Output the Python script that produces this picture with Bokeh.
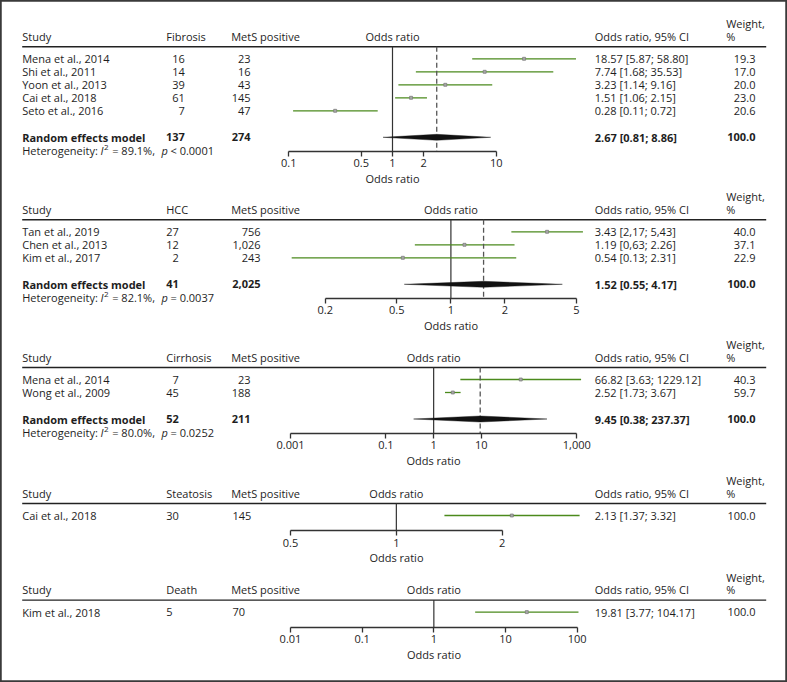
import math
from bokeh.plotting import figure
from bokeh.models import Range1d, LogScale, LinearAxis, FixedTicker, NumeralTickFormatter
from bokeh.core.properties import value
from bokeh.embed import file_html
from bokeh.resources import INLINE

# ---------------- data ----------------
fib_study = ["Mena et al., 2014", "Shi et al., 2011", "Yoon et al., 2013", "Cai et al., 2018", "Seto et al., 2016"]
fib_events = [16, 14, 39, 61, 7]
fib_mets = [23, 16, 43, 145, 47]
fib_or = [18.57, 7.74, 3.23, 1.51, 0.28]
fib_lo = [5.87, 1.68, 1.14, 1.06, 0.11]
fib_hi = [58.80, 35.53, 9.16, 2.15, 0.72]
fib_ci = ["18.57 [5.87; 58.80]", "7.74 [1.68; 35.53]", "3.23 [1.14; 9.16]", "1.51 [1.06; 2.15]", "0.28 [0.11; 0.72]"]
fib_w = [19.3, 17.0, 20.0, 23.0, 20.6]
fib_sum = [2.67, 0.81, 8.86]
fib_sum_ci = "2.67 [0.81; 8.86]"
fib_tot = [137, 274]
fib_het = ["89.1%", "< 0.0001"]
fib_ticks = [0.1, 0.5, 1, 2, 10]

hcc_study = ["Tan et al., 2019", "Chen et al., 2013", "Kim et al., 2017"]
hcc_events = [27, 12, 2]
hcc_mets = [756, 1026, 243]
hcc_or = [3.43, 1.19, 0.54]
hcc_lo = [2.17, 0.63, 0.13]
hcc_hi = [5.43, 2.26, 2.31]
hcc_ci = ["3.43 [2,17; 5,43]", "1.19 [0,63; 2.26]", "0.54 [0.13; 2.31]"]
hcc_w = [40.0, 37.1, 22.9]
hcc_sum = [1.52, 0.55, 4.17]
hcc_sum_ci = "1.52 [0.55; 4.17]"
hcc_tot = [41, 2025]
hcc_het = ["82.1%", "= 0.0037"]
hcc_ticks = [0.2, 0.5, 1, 2, 5]

cir_study = ["Mena et al., 2014", "Wong et al., 2009"]
cir_events = [7, 45]
cir_mets = [23, 188]
cir_or = [66.82, 2.52]
cir_lo = [3.63, 1.73]
cir_hi = [1229.12, 3.67]
cir_ci = ["66.82 [3.63; 1229.12]", "2.52 [1.73; 3.67]"]
cir_w = [40.3, 59.7]
cir_sum = [9.45, 0.38, 237.37]
cir_sum_ci = "9.45 [0.38; 237.37]"
cir_tot = [52, 211]
cir_het = ["80.0%", "= 0.0252"]
cir_ticks = [0.001, 0.1, 1, 10, 1000]

ste_study = ["Cai et al., 2018"]
ste_events = [30]
ste_mets = [145]
ste_or = [2.13]
ste_lo = [1.37]
ste_hi = [3.32]
ste_ci = ["2.13 [1.37; 3.32]"]
ste_w = [100.0]
ste_ticks = [0.5, 1, 2]

dea_study = ["Kim et al., 2018"]
dea_events = [5]
dea_mets = [70]
dea_or = [19.81]
dea_lo = [3.77]
dea_hi = [104.17]
dea_ci = ["19.81 [3.77; 104.17]"]
dea_w = [100.0]
dea_ticks = [0.01, 0.1, 1, 10, 100]

# ---------------- layout / style ----------------
W, H = 787, 682
FONT = value("Open Sans")
FS = "11px"
TXT = "#1e1e1e"
GREEN = "#4b8a1c"

p = figure(width=W, height=H, x_range=Range1d(0, W), y_range=Range1d(H, 0),
           output_backend="svg", toolbar_location=None,
           x_axis_location=None, y_axis_location=None, min_border=0)
p.title.visible = False
p.grid.visible = False
p.outline_line_color = "#3a3a3a"
p.outline_line_width = 2.5
p.background_fill_color = "white"
p.border_fill_color = "white"


def txt(x, y, s, align="left", style="normal", size=FS, rng=None):
    kw = {}
    if rng is not None:
        kw["x_range_name"] = rng
    p.text(x=[x], y=[y], text=[s], text_font=FONT, text_font_size=size,
           text_font_style=style, text_align=align, text_baseline="middle",
           text_color=TXT, **kw)


panels = [
    dict(name="fib", col="Fibrosis", study=fib_study, ev=fib_events, mets=fib_mets, est=fib_or,
         lo=fib_lo, hi=fib_hi, ci=fib_ci, w=fib_w, summ=fib_sum, summ_ci=fib_sum_ci, tot=fib_tot,
         het=fib_het, ticks=fib_ticks, anchors=((0.1, 288.3), (10, 495.7)), hy=36.0,
         ev_x=184.3, ev_al="right", me_x=250, me_al="right"),
    dict(name="hcc", col="HCC", study=hcc_study, ev=hcc_events, mets=hcc_mets, est=hcc_or,
         lo=hcc_lo, hi=hcc_hi, ci=hcc_ci, w=hcc_w, summ=hcc_sum, summ_ci=hcc_sum_ci, tot=hcc_tot,
         het=hcc_het, ticks=hcc_ticks, anchors=((0.2, 324.8), (5, 576.0)), hy=209.0,
         ev_x=178.3, ev_al="right", me_x=260, me_al="right"),
    dict(name="cir", col="Cirrhosis", study=cir_study, ev=cir_events, mets=cir_mets, est=cir_or,
         lo=cir_lo, hi=cir_hi, ci=cir_ci, w=cir_w, summ=cir_sum, summ_ci=cir_sum_ci, tot=cir_tot,
         het=cir_het, ticks=cir_ticks, anchors=((0.001, 290.0), (1000, 576.3)), hy=356.7,
         ev_x=178.3, ev_al="right", me_x=250, me_al="right"),
    dict(name="ste", col="Steatosis", study=ste_study, ev=ste_events, mets=ste_mets, est=ste_or,
         lo=ste_lo, hi=ste_hi, ci=ste_ci, w=ste_w, summ=None, ticks=ste_ticks,
         anchors=((0.5, 290.0), (2, 501.7)), hy=492.7,
         ev_x=165.7, ev_al="left", me_x=232, me_al="left"),
    dict(name="dea", col="Death", study=dea_study, ev=dea_events, mets=dea_mets, est=dea_or,
         lo=dea_lo, hi=dea_hi, ci=dea_ci, w=dea_w, summ=None, ticks=dea_ticks,
         anchors=((0.01, 290.0), (100, 576.7)), hy=589.3,
         ev_x=165.7, ev_al="left", me_x=232, me_al="left"),
]

STEP = 13.0
for P in panels:
    name = P["name"]
    (va, pa), (vb, pb) = P["anchors"]
    k = (pb - pa) / (math.log10(vb) - math.log10(va))
    ls = math.log10(va) - pa / k
    le = ls + W / k
    p.extra_x_ranges[name] = Range1d(10 ** ls, 10 ** le)
    p.extra_x_scales[name] = LogScale()

    hy = P["hy"]
    line_y = hy + 10.3
    rows = [line_y + 12 + STEP * i for i in range(len(P["study"]))]
    if P["summ"] is not None:
        re_y = rows[-1] + 26.5
        het_y = re_y + 13
        axis_y = het_y + 1
    else:
        axis_y = rows[-1] + 15

    # header
    txt(725.7, hy - 12.7, "Weight,")
    txt(725.7, hy, "%")
    txt(21.7, hy, "Study")
    txt(165.7, hy, P["col"])
    txt(230.7, hy, "MetS positive")
    txt(1, hy, "Odds ratio", align="center", rng=name)
    txt(594.3, hy, "Odds ratio, 95% CI")
    p.segment(x0=[21.7], x1=[765.7], y0=[line_y], y1=[line_y], line_color="#222222", line_width=1.4)

    # study rows
    for i, y in enumerate(rows):
        txt(21.7, y, P["study"][i])
        txt(P["ev_x"], y, str(P["ev"][i]), align=P["ev_al"])
        txt(P["me_x"], y, f"{P['mets'][i]:,}", align=P["me_al"])
        txt(594.3, y, P["ci"][i])
        txt(755, y, f"{P['w'][i]:.1f}", align="right")

    # reference line at OR = 1
    p.segment(x0=[1], x1=[1], y0=[line_y], y1=[axis_y], line_color="#333333",
              line_width=1.2, x_range_name=name)

    # CIs and point estimates
    p.segment(x0=P["lo"], x1=P["hi"], y0=rows, y1=rows, line_color=GREEN,
              line_width=1.3, x_range_name=name)
    p.scatter(x=P["est"], y=rows, marker="square", size=3, fill_color="#a8a8a8",
              line_color="#777777", line_width=0.7, x_range_name=name)

    if P["summ"] is not None:
        est, slo, shi = P["summ"]
        p.segment(x0=[est], x1=[est], y0=[line_y], y1=[axis_y], line_color="#555555",
                  line_width=1.3, line_dash="5 3", x_range_name=name)
        p.patch(x=[slo, est, shi, est], y=[re_y, re_y - 3.0, re_y, re_y + 3.0],
                fill_color="#111111", line_color="#111111", line_width=0.4, x_range_name=name)
        txt(21.7, re_y, "Random effects model", style="bold")
        txt(P["ev_x"], re_y, str(P["tot"][0]), align=P["ev_al"], style="bold")
        txt(P["me_x"], re_y, f"{P['tot'][1]:,}", align=P["me_al"], style="bold")
        txt(594.3, re_y, P["summ_ci"], style="bold")
        txt(755, re_y, "100.0", align="right", style="bold")
        # heterogeneity line
        txt(21.7, het_y, "Heterogeneity:")
        txt(100.0, het_y, "I", style="italic")
        txt(103.6, het_y - 3, "2", size="8px")
        txt(111.7, het_y, "= " + P["het"][0] + ",")
        txt(161.0, het_y, "p", style="italic")
        txt(170.0, het_y, P["het"][1])

    ticks = P["ticks"]
    ax = LinearAxis(x_range_name=name, ticker=FixedTicker(ticks=ticks, minor_ticks=[]),
                    formatter=NumeralTickFormatter(format="0,0.[000]"),
                    bounds=(ticks[0], ticks[-1]), fixed_location=axis_y,
                    axis_label="Odds ratio")
    ax.axis_line_color = "#333333"
    ax.axis_line_width = 1.3
    ax.major_tick_line_color = "#333333"
    ax.major_tick_line_width = 1.3
    ax.major_tick_in = 0
    ax.major_tick_out = 5
    ax.minor_tick_line_color = None
    ax.major_label_standoff = 3
    ax.major_label_text_font = "Open Sans"
    ax.major_label_text_font_size = FS
    ax.major_label_text_color = TXT
    ax.axis_label_text_font = "Open Sans"
    ax.axis_label_text_font_size = FS
    ax.axis_label_text_font_style = "normal"
    ax.axis_label_text_color = TXT
    ax.axis_label_standoff = 0
    p.add_layout(ax, "below")

open("out.html", "w").write(file_html(p, INLINE))
